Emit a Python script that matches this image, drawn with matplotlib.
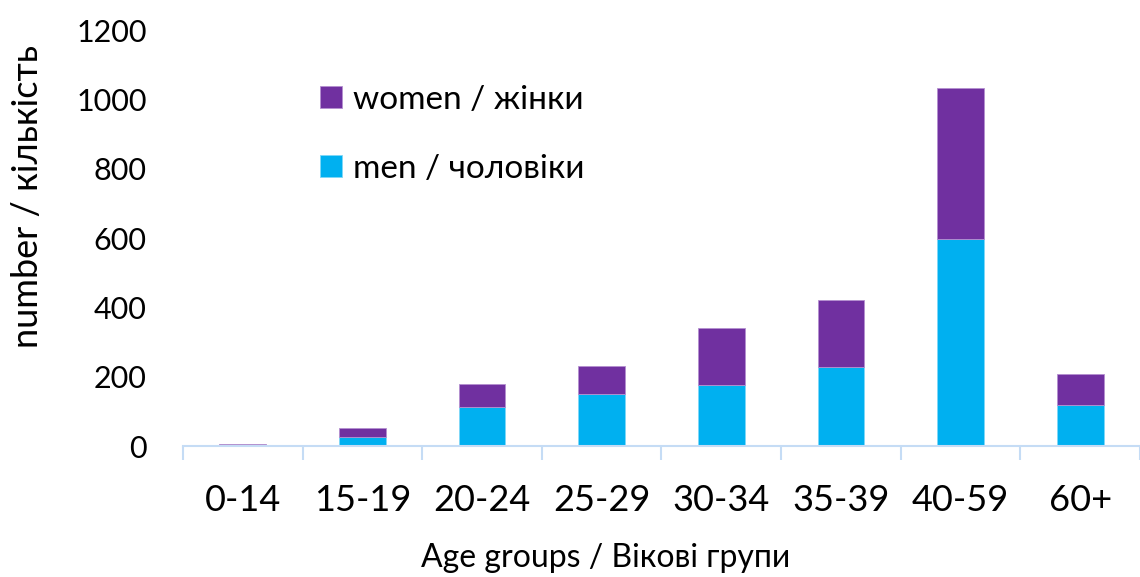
import numpy as np
import matplotlib.pyplot as plt

plt.rcParams['font.family'] = ['Lato', 'Noto Sans', 'DejaVu Sans']

groups = ['0-14', '15-19', '20-24', '25-29', '30-34', '35-39', '40-59', '60+']
men = [1, 27, 113, 149, 176, 227, 597, 117]
women = [4, 26, 65, 83, 164, 193, 436, 90]

men_color = '#00B0F0'
women_color = '#7030A0'


def main():
    fig = plt.figure(figsize=(11.4, 5.77), dpi=100)
    ax = fig.add_axes([0.1605, 0.227, 0.8395, 0.721])
    x = np.arange(len(groups))
    w = 0.39
    ax.bar(x, men, w, color=men_color, edgecolor='#7fd7f7', linewidth=0.6,
           label='men / чоловіки')
    ax.bar(x, women, w, bottom=men, color=women_color, edgecolor='#b48fd0',
           linewidth=0.6, label='women / жінки')

    ax.set_xlim(-0.5, len(groups) - 0.5)
    ax.set_ylim(0, 1200)
    ax.set_yticks(range(0, 1201, 200))
    ax.tick_params(axis='y', length=0, pad=26, labelsize=22)
    ax.set_xticks(x)
    ax.set_xticklabels(groups)
    ax.tick_params(axis='x', length=0, pad=27, labelsize=26)
    ax.set_xticks(np.arange(len(groups) + 1) - 0.5, minor=True)
    ax.tick_params(axis='x', which='minor', length=10, width=1.5,
                   color='#c5dcf5')

    for s in ['top', 'right', 'left']:
        ax.spines[s].set_visible(False)
    ax.spines['bottom'].set_color('#c5dcf5')
    ax.spines['bottom'].set_linewidth(1.5)

    ax.set_ylabel('number / кількість', fontsize=26)
    ax.yaxis.set_label_coords(-0.145, 0.6)
    ax.set_xlabel('Age groups / Вікові групи', fontsize=23)
    ax.xaxis.set_label_coords(0.442, -0.232)

    handles, labels = ax.get_legend_handles_labels()
    ax.legend(handles[::-1], labels[::-1], loc='upper left',
              bbox_to_anchor=(0.112, 0.94), frameon=False, fontsize=24,
              handlelength=0.65, handleheight=0.65, handletextpad=0.35,
              labelspacing=1.17)

    fig.savefig('out.png', dpi=100)


if __name__ == '__main__':
    main()
